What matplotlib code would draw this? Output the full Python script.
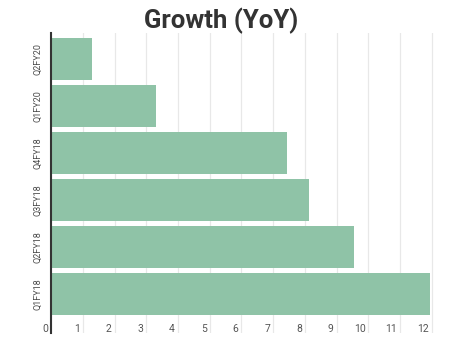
import numpy as np
import matplotlib.pyplot as plt
import matplotlib.transforms as mtrans

# quarters listed bottom to top
quarters = ["Q1FY18", "Q2FY18", "Q3FY18", "Q4FY18", "Q1FY20", "Q2FY20"]
growth = [11.95, 9.55, 8.14, 7.42, 3.31, 1.3]
xticks = list(range(0, 13))

plt.rcParams['font.family'] = ['Roboto', 'DejaVu Sans']

fig = plt.figure(figsize=(4.68, 3.6), dpi=100)
ax = fig.add_axes([51/468, 27/360, 393.7/468, 300/360])

pos = np.arange(len(quarters))
ax.barh(pos, growth, height=0.89, color='#8fc3a7', zorder=2)

ax.set_xlim(0, 12.4)
ax.set_ylim(-0.82, 5.55)

# gridlines
ax.set_xticks(xticks)
ax.grid(axis='x', color='#e8e8e8', linewidth=0.9, zorder=0)
ax.set_axisbelow(True)

# x labels sit inside the plot, to the left of each gridline
ax.set_xticklabels([str(t) for t in xticks], fontsize=7.5, color='#555555')
ax.tick_params(axis='x', length=0, pad=-6.5)
offset = mtrans.ScaledTranslation(-3/100, 0, fig.dpi_scale_trans)
for lbl in ax.get_xticklabels():
    lbl.set_horizontalalignment('right')
    lbl.set_transform(lbl.get_transform() + offset)

ax.set_yticks(pos)
ax.set_yticklabels(quarters, rotation=90, va='center', fontsize=6.5, color='#4a4a4a')
ax.tick_params(axis='y', length=0, pad=6)

for s in ['top', 'right', 'bottom']:
    ax.spines[s].set_visible(False)
ax.spines['left'].set_color('#333333')
ax.spines['left'].set_linewidth(1.5)

fig.text(221/468, 339/360, "Growth (YoY)", ha='center', va='center',
         fontsize=18.5, fontweight='bold', color='#333333')

fig.savefig('out.png', dpi=100)
